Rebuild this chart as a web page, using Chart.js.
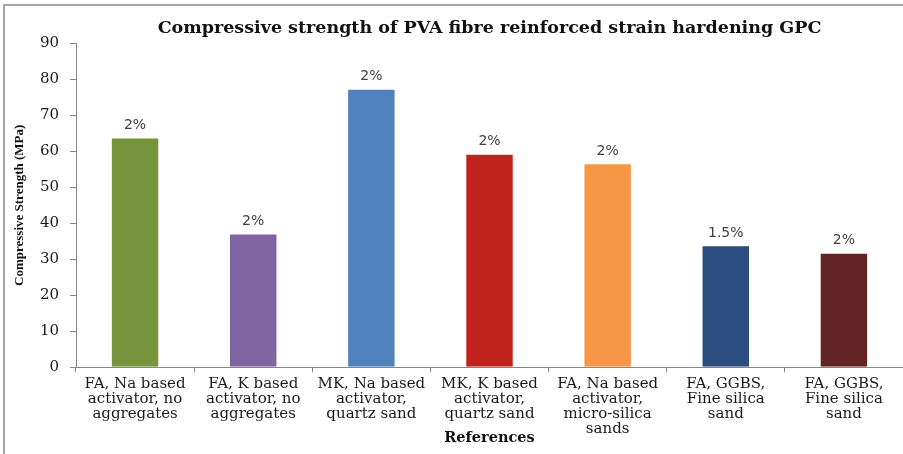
<!DOCTYPE html>
<html>
<head>
<meta charset="utf-8">
<script src="https://cdn.jsdelivr.net/npm/chart.js@4.4.1/dist/chart.umd.min.js"></script>
<style>
  html, body { margin: 0; padding: 0; background: #ffffff; }
  #wrap { width: 903px; height: 454px; position: relative; }
</style>
</head>
<body>
<div id="wrap"><canvas id="chart"></canvas></div>
<script>
// Mix design of each reference (multi-line category labels)
const categories = [
  ['FA, Na based', 'activator, no', 'aggregates'],
  ['FA, K based', 'activator, no', 'aggregates'],
  ['MK, Na based', 'activator,', 'quartz sand'],
  ['MK, K based', 'activator,', 'quartz sand'],
  ['FA, Na based', 'activator,', 'micro-silica', 'sands'],
  ['FA, GGBS,', 'Fine silica', 'sand'],
  ['FA, GGBS,', 'Fine silica', 'sand']
];

// Compressive strength (MPa)
const strength = [63.8, 37.2, 77.4, 59.3, 56.7, 33.9, 31.8];

// PVA fibre volume fraction shown above each bar
const fibreContent = ['2%', '2%', '2%', '2%', '2%', '1.5%', '2%'];

const barColors = ['#77933C', '#8064A2', '#4F81BD', '#C0231D', '#F79646', '#2A4C7E', '#632523'];

const yMin = 0, yMax = 90, yStep = 10;

// Writes the fibre content above each bar
const fibreLabels = {
  id: 'fibreLabels',
  afterDatasetsDraw(chart) {
    const { ctx } = chart;
    const meta = chart.getDatasetMeta(0);
    ctx.save();
    ctx.font = '14px "DejaVu Sans"';
    ctx.fillStyle = '#404040';
    ctx.textAlign = 'center';
    ctx.textBaseline = 'middle';
    meta.data.forEach((bar, i) => {
      ctx.fillText(fibreContent[i], bar.x, bar.y - 12);
    });
    ctx.restore();
  }
};

// Thin grey frame along the top and left edges of the figure
const frame = {
  id: 'frame',
  beforeDraw(chart) {
    const { ctx, width, height } = chart;
    ctx.save();
    ctx.fillStyle = '#a6a6a6';
    ctx.fillRect(3, 4, width - 3, 2);
    ctx.fillRect(3, 4, 2, height - 4);
    ctx.restore();
  }
};

new Chart(document.getElementById('chart'), {
  type: 'bar',
  data: {
    labels: categories,
    datasets: [{
      data: strength,
      backgroundColor: barColors,
      borderColor: 'rgba(255,255,255,0.45)',
      borderWidth: 1,
      barPercentage: 0.41,
      categoryPercentage: 1.0
    }]
  },
  options: {
    responsive: true,
    maintainAspectRatio: false,
    animation: false,
    events: [],
    layout: { padding: 0 },
    plugins: {
      legend: { display: false },
      tooltip: { enabled: false },
      title: {
        display: true,
        fullSize: false,
        text: 'Compressive strength of PVA fibre reinforced strain hardening GPC',
        color: '#111111',
        font: { family: '"DejaVu Serif"', size: 17.5, weight: 'bold', lineHeight: 1.2 },
        padding: { top: 17.5, bottom: 4.8 }
      }
    },
    scales: {
      x: {
        grid: {
          display: true,
          drawOnChartArea: false,
          drawTicks: true,
          tickLength: 5,
          color: '#878787',
          offset: true
        },
        border: { display: true, color: '#878787', width: 1 },
        ticks: {
          autoSkip: false,
          maxRotation: 0,
          minRotation: 0,
          padding: 4,
          color: '#1a1a1a',
          font: { family: '"DejaVu Serif"', size: 15, lineHeight: '15px' }
        },
        title: {
          display: true,
          text: 'References',
          color: '#111111',
          font: { family: '"DejaVu Serif"', size: 14.5, weight: 'bold', lineHeight: 1.2 },
          padding: { top: 0, bottom: 7.3 }
        },
        afterFit(scale) { scale.height = 86.7; }
      },
      y: {
        min: yMin,
        max: yMax,
        grid: {
          display: true,
          drawOnChartArea: false,
          drawTicks: true,
          tickLength: 6,
          color: '#878787'
        },
        border: { display: true, color: '#878787', width: 1 },
        ticks: {
          stepSize: yStep,
          padding: 11,
          color: '#1a1a1a',
          font: { family: '"DejaVu Serif"', size: 15 }
        },
        title: {
          display: true,
          text: 'Compressive Strength (MPa)',
          color: '#111111',
          font: { family: '"Liberation Serif"', size: 13, weight: 'bold', lineHeight: 1.2 },
          padding: { top: 12, bottom: 0 }
        },
        afterFit(scale) { scale.width = 76; }
      }
    }
  },
  plugins: [frame, fibreLabels]
});
</script>
</body>
</html>
